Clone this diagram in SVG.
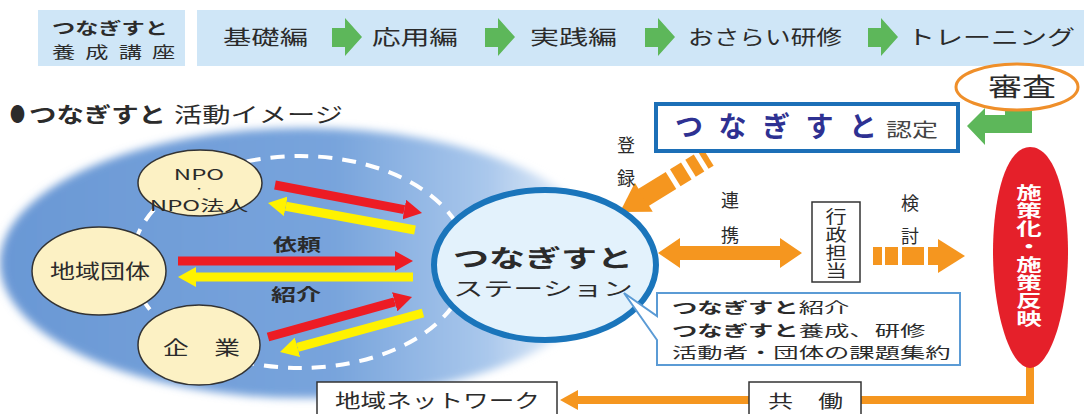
<svg xmlns="http://www.w3.org/2000/svg" width="1087" height="414" viewBox="0 0 1087 414">
<defs>
<style>
text { font-family: 'Noto Sans CJK JP', 'Noto Sans', sans-serif; fill: #2b2b2b; }
.b { font-weight: 700; }
.w { fill: #ffffff; font-weight: 700; }
.navy { fill: #2e3192; }
.g6 { fill: #444; }
.vt { writing-mode: vertical-rl; }
.barbg { fill: #cfe6f7; }
.gr { fill: #5db75a; }
.or { fill: #f5961f; }
.node { fill: #fcf1c4; stroke: #333; stroke-width: 1.5; }
.box { fill: #fff; stroke: #333; stroke-width: 1.5; }
.red { stroke: #ed1c24; stroke-width: 9; fill: none; marker-end: url(#hr); }
.yel { stroke: #fff200; stroke-width: 9; fill: none; marker-end: url(#hy); }
</style>
<linearGradient id="blobg" x1="0" y1="0" x2="1" y2="0">
<stop offset="0" stop-color="#6a98d5"/>
<stop offset="0.55" stop-color="#78a4dc"/>
<stop offset="0.8" stop-color="#aac8ec"/>
<stop offset="1" stop-color="#ffffff"/>
</linearGradient>
<filter id="soft" x="-10%" y="-10%" width="120%" height="120%"><feGaussianBlur stdDeviation="4"/></filter>
<marker id="hr" markerUnits="userSpaceOnUse" markerWidth="18" markerHeight="20" viewBox="0 0 18 20" refX="0" refY="10" orient="auto"><path d="M0,0 L18,10 L0,20 Z" fill="#ed1c24"/></marker>
<marker id="hy" markerUnits="userSpaceOnUse" markerWidth="18" markerHeight="20" viewBox="0 0 18 20" refX="0" refY="10" orient="auto"><path d="M0,0 L18,10 L0,20 Z" fill="#fff200"/></marker>
<marker id="ho" markerUnits="userSpaceOnUse" markerWidth="18" markerHeight="20" viewBox="0 0 18 20" refX="0" refY="10" orient="auto"><path d="M0,0 L18,10 L0,20 Z" fill="#f5961f"/></marker>
</defs>

<rect width="1087" height="414" fill="#ffffff"/>

<g id="background">
<ellipse cx="305" cy="263" rx="305" ry="135" fill="url(#blobg)" filter="url(#soft)"/>
<ellipse cx="300" cy="262" rx="168" ry="106" fill="none" stroke="#ffffff" stroke-width="4" stroke-dasharray="14 10"/>
</g>

<g id="course-bar">
<rect class="barbg" x="38" y="10" width="147" height="56"/>
<rect class="barbg" x="197" y="10" width="887" height="56"/>
</g>

<g id="connectors">
<path class="gr" d="M332,28 h13 v-10 l17,19 l-17,19 v-9 h-13 z"/>
<path class="gr" d="M485,28 h13 v-10 l17,19 l-17,19 v-9 h-13 z"/>
<path class="gr" d="M645,28 h13 v-10 l17,19 l-17,19 v-9 h-13 z"/>
<path class="gr" d="M868,28 h13 v-10 l17,19 l-17,19 v-9 h-13 z"/>
<path class="gr" d="M1005,64 H1032 V133 H985 V145 L967,126 L985,108 V115 H1005 Z"/>
<line class="red" x1="275" y1="185" x2="404.3" y2="209.6"/>
<line class="yel" x1="415" y1="230" x2="285.7" y2="206.3"/>
<line class="red" x1="178" y1="261" x2="395" y2="261"/>
<line class="yel" x1="413" y1="277" x2="196" y2="277"/>
<line class="red" x1="268" y1="337" x2="394.7" y2="301.8"/>
<line class="yel" x1="423" y1="313" x2="297.4" y2="347.3"/>
<g transform="translate(620,212) rotate(-31.8)">
<path class="or" d="M0,0 L28,-17 L28,17 Z"/>
<rect class="or" x="27" y="-10" width="33" height="20"/>
<rect class="or" x="65" y="-10" width="13" height="20"/>
<rect class="or" x="83" y="-10" width="10" height="20"/>
<rect class="or" x="98" y="-10" width="6" height="20"/>
</g>
<path class="or" d="M658,253 L680,238 L680,246 L780,246 L780,238 L802,253 L780,268 L780,260 L680,260 L680,268 Z"/>
<rect class="or" x="873" y="247" width="9" height="18"/>
<rect class="or" x="885" y="247" width="13" height="18"/>
<rect class="or" x="902" y="247" width="22" height="18"/>
<rect class="or" x="928" y="247" width="12" height="18"/>
<path class="or" d="M938,239 L965,256 L938,273 Z"/>
<polyline points="1030,360 1030,400 578,400" fill="none" stroke="#f5961f" stroke-width="8" marker-end="url(#ho)"/>
</g>

<g id="node-course-title">
<text transform="translate(52,0) scale(1.45,1)" font-size="16"><tspan class="b" x="0" y="34">つなぎすと</tspan><tspan x="0" y="58" letter-spacing="7">養成講座</tspan></text>
</g>
<g id="node-kiso"><text x="223" y="45" font-size="20" textLength="85" lengthAdjust="spacingAndGlyphs">基礎編</text></g>
<g id="node-oyo"><text x="372" y="45" font-size="20" textLength="86" lengthAdjust="spacingAndGlyphs">応用編</text></g>
<g id="node-jissen"><text x="530" y="45" font-size="20" textLength="87" lengthAdjust="spacingAndGlyphs">実践編</text></g>
<g id="node-osarai"><text x="688" y="45" font-size="20" textLength="154" lengthAdjust="spacingAndGlyphs">おさらい研修</text></g>
<g id="node-training"><text x="907" y="45" font-size="20" textLength="168" lengthAdjust="spacingAndGlyphs">トレーニング</text></g>

<g id="node-review">
<ellipse cx="1017" cy="87" rx="61" ry="23" fill="#fff" stroke="#ef8f2a" stroke-width="3"/>
<text x="988" y="96" font-size="25" textLength="68" lengthAdjust="spacingAndGlyphs">審査</text>
</g>

<g id="node-heading">
<text x="10" y="122" font-size="20" textLength="15" lengthAdjust="spacingAndGlyphs">●</text>
<text class="b" x="29" y="122" font-size="21" textLength="137" lengthAdjust="spacingAndGlyphs">つなぎすと</text>
<text x="174" y="122" font-size="21" textLength="169" lengthAdjust="spacingAndGlyphs">活動イメージ</text>
</g>

<g id="node-certification">
<rect x="656" y="104" width="302" height="47" fill="#fff" stroke="#1c6fb7" stroke-width="4"/>
<text class="b navy" x="675" y="137" font-size="28" textLength="202" lengthAdjust="spacing">つなぎすと</text>
<text class="g6" x="886" y="137" font-size="19" textLength="52" lengthAdjust="spacingAndGlyphs">認定</text>
</g>

<g id="label-toroku" font-size="18" text-anchor="middle">
<text x="626" y="152">登</text>
<text x="626" y="185">録</text>
</g>
<g id="label-renkei" font-size="18" text-anchor="middle">
<text x="730" y="207">連</text>
<text x="730" y="242">携</text>
</g>
<g id="label-kento" font-size="18" text-anchor="middle">
<text x="910" y="210">検</text>
<text x="910" y="243">討</text>
</g>
<g id="label-irai"><text class="b" x="273" y="251" font-size="17" textLength="48" lengthAdjust="spacingAndGlyphs">依頼</text></g>
<g id="label-shokai"><text class="b" x="271" y="301" font-size="17" textLength="50" lengthAdjust="spacingAndGlyphs">紹介</text></g>

<g id="node-npo">
<ellipse class="node" cx="200" cy="183" rx="62" ry="33"/>
<text transform="translate(199,0) scale(1.6,1)" font-size="15" text-anchor="middle"><tspan x="0" y="180">NPO</tspan><tspan x="0" y="191.5" font-size="6" font-weight="700">・</tspan><tspan x="0" y="211">NPO法人</tspan></text>
</g>
<g id="node-chiiki">
<ellipse class="node" cx="99" cy="271" rx="67" ry="44"/>
<text x="50" y="279" font-size="20" textLength="100" lengthAdjust="spacingAndGlyphs">地域団体</text>
</g>
<g id="node-kigyo">
<ellipse class="node" cx="199" cy="345" rx="61" ry="40"/>
<text x="163" y="355" font-size="19" textLength="77" lengthAdjust="spacingAndGlyphs">企　業</text>
</g>

<g id="node-station">
<ellipse cx="545" cy="265" rx="111" ry="75" fill="#e3f2fc" stroke="#1a75bb" stroke-width="6"/>
<text class="b" transform="translate(543,0) scale(1.5,1)" x="0" y="267" font-size="24" text-anchor="middle">つなぎすと</text>
<text transform="translate(543,0) scale(1.58,1)" x="0" y="296" font-size="19" text-anchor="middle">ステーション</text>
</g>

<g id="node-callout">
<path d="M657,293 H960 V365 H657 V340 L624,293 L657,316 Z" fill="#fff" stroke="#5b9bd5" stroke-width="2"/>
<text transform="translate(672,0) scale(1.69,1)" font-size="15"><tspan class="b" x="0" y="313">つなぎすと</tspan><tspan>紹介</tspan><tspan class="b" x="0" y="336">つなぎすと</tspan><tspan>養成、研修</tspan><tspan x="0" y="358">活動者・団体の課題集約</tspan></text>
</g>

<g id="node-gyosei">
<rect class="box" x="812" y="202" width="48" height="80"/>
<text class="vt" transform="translate(836,0) scale(1.25,1)" x="0" y="208" font-size="17" letter-spacing="1">行政担当</text>
</g>

<g id="node-policy">
<path d="M1030,147 C1056,147 1068,200 1068,252 C1068,312 1050,368 1030,368 C1010,368 993,312 993,252 C993,200 1005,147 1030,147 Z" fill="#e5202a"/>
<text class="w vt" transform="translate(1029,0) scale(1.5,1)" x="0" y="184" font-size="17" letter-spacing="1">施策化・施策反映</text>
</g>

<g id="node-kyodo">
<rect class="box" x="749" y="382" width="112" height="40"/>
<text x="768" y="408" font-size="18" textLength="75" lengthAdjust="spacingAndGlyphs">共　働</text>
</g>
<g id="node-network">
<rect class="box" x="317" y="382" width="240" height="40"/>
<text x="335" y="408" font-size="19" textLength="205" lengthAdjust="spacingAndGlyphs">地域ネットワーク</text>
</g>
</svg>
